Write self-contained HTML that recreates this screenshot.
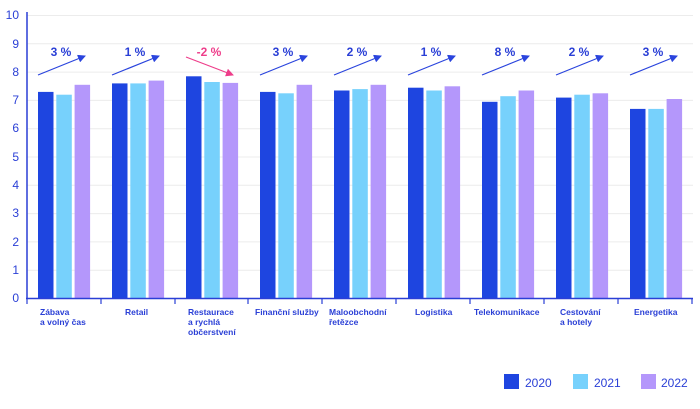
<!DOCTYPE html>
<html><head><meta charset="utf-8"><style>
body{margin:0;background:#fff}
svg{display:block}
text{font-family:"Liberation Sans",sans-serif}
</style></head><body>
<svg width="700" height="409" viewBox="0 0 700 409" xmlns="http://www.w3.org/2000/svg">
<defs>
<marker id="ab" markerWidth="8" markerHeight="8" refX="7" refY="4" orient="auto" markerUnits="userSpaceOnUse"><path d="M0,0 L8,4 L0,8 z" fill="#2a44dd"/></marker>
<marker id="ap" markerWidth="8" markerHeight="8" refX="7" refY="4" orient="auto" markerUnits="userSpaceOnUse"><path d="M0,0 L8,4 L0,8 z" fill="#ee3d8a"/></marker>
</defs>
<g stroke="#ececec" stroke-width="1">
<line x1="27" x2="693" y1="15.5" y2="15.5"/><line x1="27" x2="693" y1="43.8" y2="43.8"/><line x1="27" x2="693" y1="72.1" y2="72.1"/><line x1="27" x2="693" y1="100.4" y2="100.4"/><line x1="27" x2="693" y1="128.7" y2="128.7"/><line x1="27" x2="693" y1="157" y2="157"/><line x1="27" x2="693" y1="185.3" y2="185.3"/><line x1="27" x2="693" y1="213.6" y2="213.6"/><line x1="27" x2="693" y1="241.9" y2="241.9"/><line x1="27" x2="693" y1="270.2" y2="270.2"/>
</g>
<g fill="#2a3fd6" font-size="12" text-anchor="end">
<text x="19" y="302">0</text><text x="19" y="274">1</text><text x="19" y="246">2</text><text x="19" y="217">3</text><text x="19" y="189">4</text><text x="19" y="161">5</text><text x="19" y="132">6</text><text x="19" y="104">7</text><text x="19" y="76">8</text><text x="19" y="48">9</text><text x="19" y="19">10</text>
</g>
<g fill="#1e45e0">
<rect x="38" y="91.9" width="15.5" height="206.6"/>
<rect x="112" y="83.4" width="15.5" height="215.1"/>
<rect x="186" y="76.3" width="15.5" height="222.2"/>
<rect x="260" y="91.9" width="15.5" height="206.6"/>
<rect x="334" y="90.5" width="15.5" height="208"/>
<rect x="408" y="87.7" width="15.5" height="210.8"/>
<rect x="482" y="101.8" width="15.5" height="196.7"/>
<rect x="556" y="97.6" width="15.5" height="200.9"/>
<rect x="630" y="108.9" width="15.5" height="189.6"/>
</g>
<g fill="#77d1fc">
<rect x="56.3" y="94.7" width="15.5" height="203.8"/>
<rect x="130.3" y="83.4" width="15.5" height="215.1"/>
<rect x="204.3" y="82" width="15.5" height="216.5"/>
<rect x="278.3" y="93.3" width="15.5" height="205.2"/>
<rect x="352.3" y="89.1" width="15.5" height="209.4"/>
<rect x="426.3" y="90.5" width="15.5" height="208"/>
<rect x="500.3" y="96.2" width="15.5" height="202.3"/>
<rect x="574.3" y="94.7" width="15.5" height="203.8"/>
<rect x="648.3" y="108.9" width="15.5" height="189.6"/>
</g>
<g fill="#b497fb">
<rect x="74.6" y="84.8" width="15.5" height="213.7"/>
<rect x="148.6" y="80.6" width="15.5" height="217.9"/>
<rect x="222.6" y="82.9" width="15.5" height="215.6"/>
<rect x="296.6" y="84.8" width="15.5" height="213.7"/>
<rect x="370.6" y="84.8" width="15.5" height="213.7"/>
<rect x="444.6" y="86.3" width="15.5" height="212.2"/>
<rect x="518.6" y="90.5" width="15.5" height="208"/>
<rect x="592.6" y="93.3" width="15.5" height="205.2"/>
<rect x="666.6" y="99" width="15.5" height="199.5"/>
</g>
<line x1="27" y1="12" x2="27" y2="299" stroke="#2a3fd6" stroke-width="1.5"/>
<line x1="26" x2="693" y1="298.5" y2="298.5" stroke="#2a3fd6" stroke-width="1.5"/>
<g stroke="#2a3fd6" stroke-width="1.2">
<line x1="27" x2="27" y1="298" y2="304"/><line x1="101" x2="101" y1="298" y2="304"/><line x1="175" x2="175" y1="298" y2="304"/><line x1="248" x2="248" y1="298" y2="304"/><line x1="322" x2="322" y1="298" y2="304"/><line x1="396" x2="396" y1="298" y2="304"/><line x1="470" x2="470" y1="298" y2="304"/><line x1="544" x2="544" y1="298" y2="304"/><line x1="618" x2="618" y1="298" y2="304"/><line x1="692" x2="692" y1="298" y2="304"/>
</g>
<g fill="#2a3fd6" font-size="8.5" font-weight="bold">
<text x="40" y="315">Zábava</text><text x="40" y="325">a volný čas</text>
<text x="125" y="315">Retail</text>
<text x="188" y="315">Restaurace</text><text x="188" y="325">a rychlá</text><text x="188" y="335">občerstvení</text>
<text x="255" y="315">Finanční služby</text>
<text x="329" y="315">Maloobchodní</text><text x="329" y="325">řetězce</text>
<text x="415" y="315">Logistika</text>
<text x="474" y="315">Telekomunikace</text>
<text x="560" y="315">Cestování</text><text x="560" y="325">a hotely</text>
<text x="634" y="315">Energetika</text>
</g>
<g stroke="#2a44dd" stroke-width="1.2" marker-end="url(#ab)">
<line x1="38" y1="75" x2="85" y2="56"/>
<line x1="112" y1="75" x2="159" y2="56"/>
<line x1="260" y1="75" x2="307" y2="56"/>
<line x1="334" y1="75" x2="381" y2="56"/>
<line x1="408" y1="75" x2="455" y2="56"/>
<line x1="482" y1="75" x2="529" y2="56"/>
<line x1="556" y1="75" x2="603" y2="56"/>
<line x1="630" y1="75" x2="677" y2="56"/>
</g>
<line x1="186" y1="57" x2="233" y2="75" stroke="#ee3d8a" stroke-width="1.2" marker-end="url(#ap)"/>
<g font-size="12" font-weight="bold" text-anchor="middle" fill="#2a3fd6">
<text x="61" y="56">3 %</text>
<text x="135" y="56">1 %</text>
<text x="209" y="56" fill="#ee3d8a">-2 %</text>
<text x="283" y="56">3 %</text>
<text x="357" y="56">2 %</text>
<text x="431" y="56">1 %</text>
<text x="505" y="56">8 %</text>
<text x="579" y="56">2 %</text>
<text x="653" y="56">3 %</text>
</g>
<rect x="504" y="374" width="15" height="15" fill="#1e45e0"/><text x="525" y="387" font-size="12" fill="#2a3fd6">2020</text>
<rect x="573" y="374" width="15" height="15" fill="#77d1fc"/><text x="594" y="387" font-size="12" fill="#2a3fd6">2021</text>
<rect x="641" y="374" width="15" height="15" fill="#b497fb"/><text x="661" y="387" font-size="12" fill="#2a3fd6">2022</text>
</svg>
</body></html>
